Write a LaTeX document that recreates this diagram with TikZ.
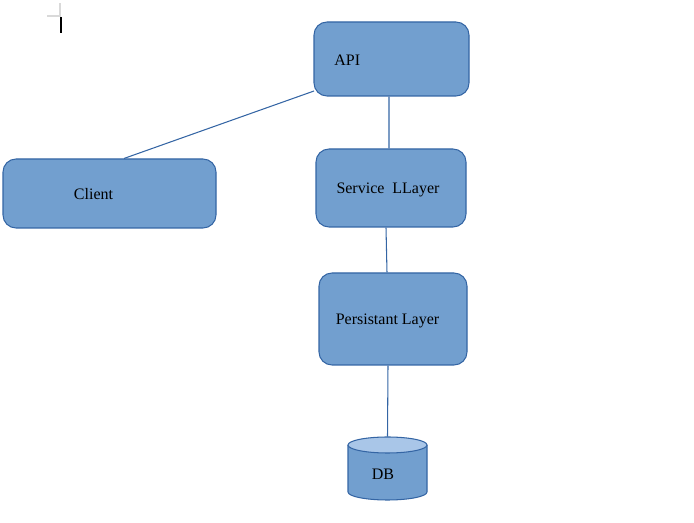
\documentclass[tikz,border=0pt]{standalone}
\usepackage{fontspec}
\setmainfont{Liberation Serif}
\usepackage{tikz}
\definecolor{boxfill}{HTML}{729FCF}
\definecolor{boxline}{HTML}{3465A4}
\definecolor{topfill}{HTML}{A9C6E8}

\begin{document}
\begin{tikzpicture}[
            box/.style={draw=boxline, fill=boxfill, rounded corners=0.26cm, line width=0.6pt, inner sep=0pt},
            txt/.style={inner sep=0pt, font=\fontsize{9.1}{11}\selectfont},
            wire/.style={draw=boxline, line width=0.6pt}]
            \useasboundingbox (0,0) rectangle (13.88,-10.46);
            \draw [gray!30, line width=0.6pt] (0.94,-0.32) -- (1.2,-0.32) -- (1.2,-0.06);
            \draw [black, line width=1.2pt] (1.22,-0.34) -- (1.22,-0.66);
            \node [box, minimum width=3.1cm, minimum height=1.48cm] (api) at (7.83,-1.18) {};
            \node [box, minimum width=4.26cm, minimum height=1.38cm] (client) at (2.19,-3.87) {};
            \node [box, minimum width=3.0cm, minimum height=1.56cm] (service) at (7.82,-3.76) {};
            \node [box, minimum width=2.96cm, minimum height=1.84cm] (persist) at (7.86,-6.38) {};
            \node [txt, anchor=west] at (6.68,-1.2) {API};
            \node [txt] at (1.87,-3.88) {Client};
            \node [txt] at (7.76,-3.79) {Service\ \ LLayer};
            \node [txt] at (7.75,-6.41) {Persistant Layer};
            \fill [boxfill] (6.96,-8.9) -- (6.96,-9.84) arc (180:360:0.79 and 0.16) -- (8.54,-8.9) -- cycle;
            \draw [boxline, line width=0.6pt] (6.96,-8.9) -- (6.96,-9.84) arc (180:360:0.79 and 0.16) -- (8.54,-8.9);
            \draw [boxline, fill=topfill, line width=0.6pt] (7.75,-8.9) ellipse (0.79 and 0.16);
            \node [txt, minimum width=1.58cm, minimum height=1.48cm] (db) at (7.66,-9.48) {DB};
            \coordinate (apiclient) at (6.28,-1.82);
            \draw [wire] (apiclient) -- ([xshift=0.29cm]client.north);
            \draw [wire] ([xshift=-0.05cm]api.south) -- ([xshift=-0.04cm]service.north);
            \draw [wire] ([xshift=-0.1cm]service.south) -- ([xshift=-0.12cm]persist.north);
            \draw [wire] ([xshift=-0.1cm]persist.south) -- ([xshift=0.09cm]db.north);
            \end{tikzpicture}
\end{document}
